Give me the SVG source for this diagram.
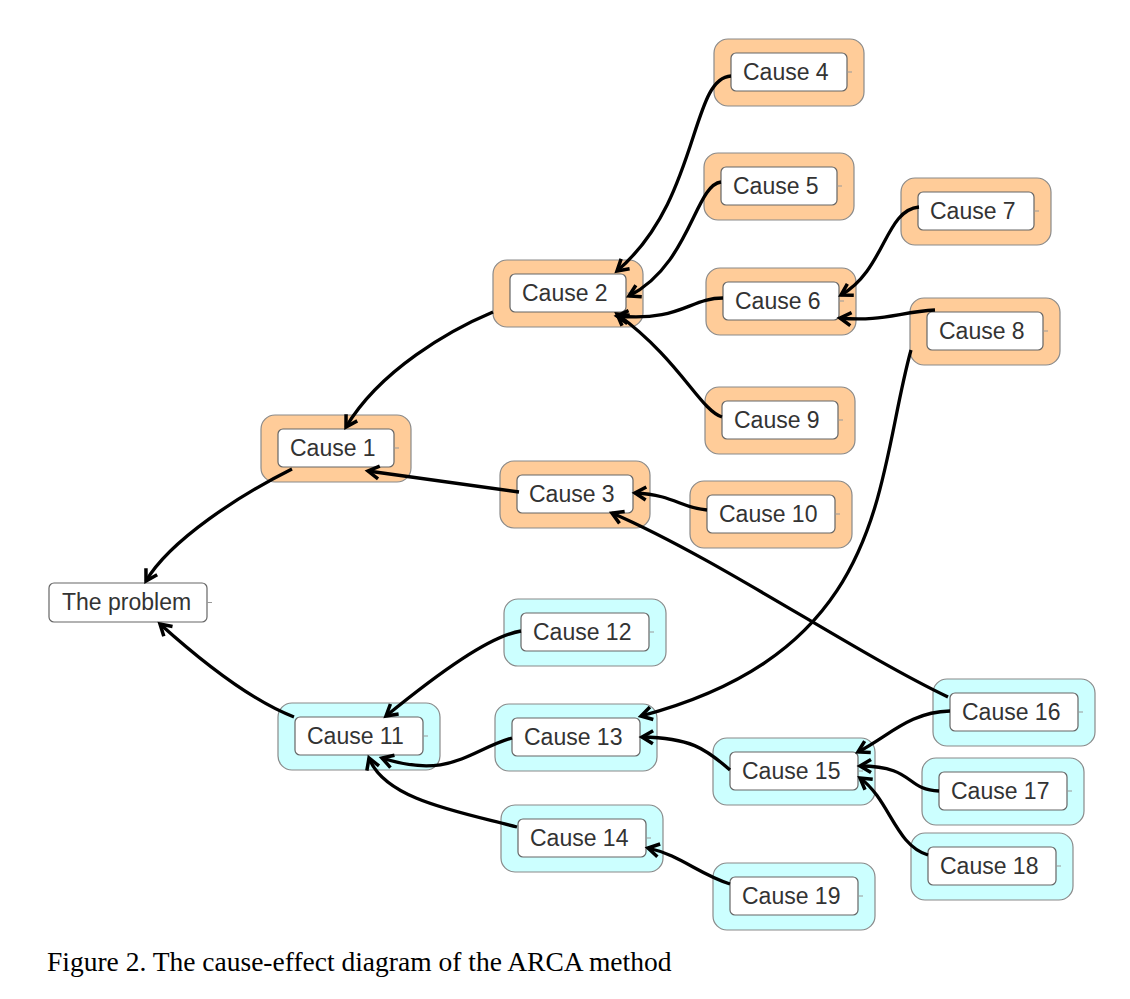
<svg xmlns="http://www.w3.org/2000/svg" width="1130" height="999" viewBox="0 0 1130 999">
<style>
.o{fill:#FFCC99;stroke:#8a8a8a;stroke-width:1.2}
.c{fill:#CCFFFF;stroke:#8a8a8a;stroke-width:1.2}
.i{fill:#fff;stroke:#666;stroke-width:1.2}
.t{font-family:"Liberation Sans",Arial,sans-serif;font-size:23px;fill:#333}
.k{stroke:#999;stroke-width:1}
.e{fill:none;stroke:#000;stroke-width:3.3;marker-end:url(#ah)}
.cap{font-family:"Liberation Serif","Times New Roman",serif;font-size:27.5px;fill:#000}
</style>
<defs>
<marker id="ah" viewBox="-14 -9 16 18" refX="0" refY="0" markerWidth="16" markerHeight="18" markerUnits="userSpaceOnUse" orient="auto" overflow="visible">
<path d="M-11,-6.5 L0,0 L-11,6.5" fill="none" stroke="#000" stroke-width="3.5"/>
</marker>
</defs>
<rect width="1130" height="999" fill="#fff"/>

<g id="problem"><rect class="i" x="49" y="583" width="158" height="39" rx="5"/><line class="k" x1="207" y1="602.5" x2="212" y2="602.5"/><text class="t" x="62" y="610">The problem</text></g>

<g id="cause1"><rect class="o" x="261" y="415" width="150" height="67" rx="14"/><rect class="i" x="278" y="429" width="116" height="38" rx="5"/><line class="k" x1="394" y1="448" x2="399" y2="448"/><text class="t" x="290" y="456">Cause 1</text></g>
<g id="cause2"><rect class="o" x="493" y="260" width="150" height="67" rx="14"/><rect class="i" x="510" y="274" width="116" height="38" rx="5"/><line class="k" x1="626" y1="293" x2="631" y2="293"/><text class="t" x="522" y="301">Cause 2</text></g>
<g id="cause3"><rect class="o" x="500" y="461" width="150" height="67" rx="14"/><rect class="i" x="517" y="475" width="116" height="38" rx="5"/><line class="k" x1="633" y1="494" x2="638" y2="494"/><text class="t" x="529" y="502">Cause 3</text></g>
<g id="cause4"><rect class="o" x="714" y="39" width="150" height="67" rx="14"/><rect class="i" x="731" y="53" width="116" height="38" rx="5"/><line class="k" x1="847" y1="72" x2="852" y2="72"/><text class="t" x="743" y="80">Cause 4</text></g>
<g id="cause5"><rect class="o" x="704" y="153" width="150" height="67" rx="14"/><rect class="i" x="721" y="167" width="116" height="38" rx="5"/><line class="k" x1="837" y1="186" x2="842" y2="186"/><text class="t" x="733" y="194">Cause 5</text></g>
<g id="cause6"><rect class="o" x="706" y="268" width="150" height="67" rx="14"/><rect class="i" x="723" y="282" width="116" height="38" rx="5"/><line class="k" x1="839" y1="301" x2="844" y2="301"/><text class="t" x="735" y="309">Cause 6</text></g>
<g id="cause7"><rect class="o" x="901" y="178" width="150" height="67" rx="14"/><rect class="i" x="918" y="192" width="116" height="38" rx="5"/><line class="k" x1="1034" y1="211" x2="1039" y2="211"/><text class="t" x="930" y="219">Cause 7</text></g>
<g id="cause8"><rect class="o" x="910" y="298" width="150" height="67" rx="14"/><rect class="i" x="927" y="312" width="116" height="38" rx="5"/><line class="k" x1="1043" y1="331" x2="1048" y2="331"/><text class="t" x="939" y="339">Cause 8</text></g>
<g id="cause9"><rect class="o" x="705" y="387" width="150" height="67" rx="14"/><rect class="i" x="722" y="401" width="116" height="38" rx="5"/><line class="k" x1="838" y1="420" x2="843" y2="420"/><text class="t" x="734" y="428">Cause 9</text></g>
<g id="cause10"><rect class="o" x="690" y="481" width="162" height="67" rx="14"/><rect class="i" x="707" y="495" width="128" height="38" rx="5"/><line class="k" x1="835" y1="514" x2="840" y2="514"/><text class="t" x="719" y="522">Cause 10</text></g>

<g id="cause11"><rect class="c" x="278" y="703" width="162" height="67" rx="14"/><rect class="i" x="295" y="717" width="128" height="38" rx="5"/><line class="k" x1="423" y1="736" x2="428" y2="736"/><text class="t" x="307" y="744">Cause 11</text></g>
<g id="cause12"><rect class="c" x="504" y="599" width="162" height="67" rx="14"/><rect class="i" x="521" y="613" width="128" height="38" rx="5"/><line class="k" x1="649" y1="632" x2="654" y2="632"/><text class="t" x="533" y="640">Cause 12</text></g>
<g id="cause13"><rect class="c" x="495" y="704" width="162" height="67" rx="14"/><rect class="i" x="512" y="718" width="128" height="38" rx="5"/><line class="k" x1="640" y1="737" x2="645" y2="737"/><text class="t" x="524" y="745">Cause 13</text></g>
<g id="cause14"><rect class="c" x="501" y="805" width="162" height="67" rx="14"/><rect class="i" x="518" y="819" width="128" height="38" rx="5"/><line class="k" x1="646" y1="838" x2="651" y2="838"/><text class="t" x="530" y="846">Cause 14</text></g>
<g id="cause15"><rect class="c" x="713" y="738" width="162" height="67" rx="14"/><rect class="i" x="730" y="752" width="128" height="38" rx="5"/><line class="k" x1="858" y1="771" x2="863" y2="771"/><text class="t" x="742" y="779">Cause 15</text></g>
<g id="cause16"><rect class="c" x="933" y="679" width="162" height="67" rx="14"/><rect class="i" x="950" y="693" width="128" height="38" rx="5"/><line class="k" x1="1078" y1="712" x2="1083" y2="712"/><text class="t" x="962" y="720">Cause 16</text></g>
<g id="cause17"><rect class="c" x="922" y="758" width="162" height="67" rx="14"/><rect class="i" x="939" y="772" width="128" height="38" rx="5"/><line class="k" x1="1067" y1="791" x2="1072" y2="791"/><text class="t" x="951" y="799">Cause 17</text></g>
<g id="cause18"><rect class="c" x="911" y="833" width="162" height="67" rx="14"/><rect class="i" x="928" y="847" width="128" height="38" rx="5"/><line class="k" x1="1056" y1="866" x2="1061" y2="866"/><text class="t" x="940" y="874">Cause 18</text></g>
<g id="cause19"><rect class="c" x="713" y="863" width="162" height="67" rx="14"/><rect class="i" x="730" y="877" width="128" height="38" rx="5"/><line class="k" x1="858" y1="896" x2="863" y2="896"/><text class="t" x="742" y="904">Cause 19</text></g>

<g id="connectors">
<path class="e" d="M731,76 C690,78 700,200 617,271"/>
<path class="e" d="M721,182 C695,185 690,265 629,296"/>
<path class="e" d="M723,298 C690,298 680,322 617,316"/>
<path class="e" d="M722,417 C700,410 680,360 617,314"/>
<path class="e" d="M919,207 C885,210 885,270 841,295"/>
<path class="e" d="M935,310 C900,312 880,322 840,318"/>
<path class="e" d="M911,350 C875,480 890,650 641,716"/>
<path class="e" d="M493,312 C450,330 380,370 346,427"/>
<path class="e" d="M519,492 C470,485 420,478 368,471"/>
<path class="e" d="M707,510 C680,508 675,495 635,493"/>
<path class="e" d="M948,697 C850,650 720,560 612,513"/>
<path class="e" d="M292,469 C240,495 170,540 146,581"/>
<path class="e" d="M294,717 C250,700 200,660 160,624"/>
<path class="e" d="M521,631 C490,636 440,672 386,716"/>
<path class="e" d="M512,738 C470,750 450,780 382,758"/>
<path class="e" d="M517,827 C460,812 385,800 369,758"/>
<path class="e" d="M730,770 C705,748 690,738 642,737"/>
<path class="e" d="M950,711 C910,712 890,735 858,752"/>
<path class="e" d="M939,791 C905,790 915,766 860,766"/>
<path class="e" d="M928,855 C895,845 890,800 860,778"/>
<path class="e" d="M730,884 C700,875 680,855 648,848"/>
</g>

<text class="cap" x="47" y="971">Figure 2. The cause-effect diagram of the ARCA method</text>
</svg>
